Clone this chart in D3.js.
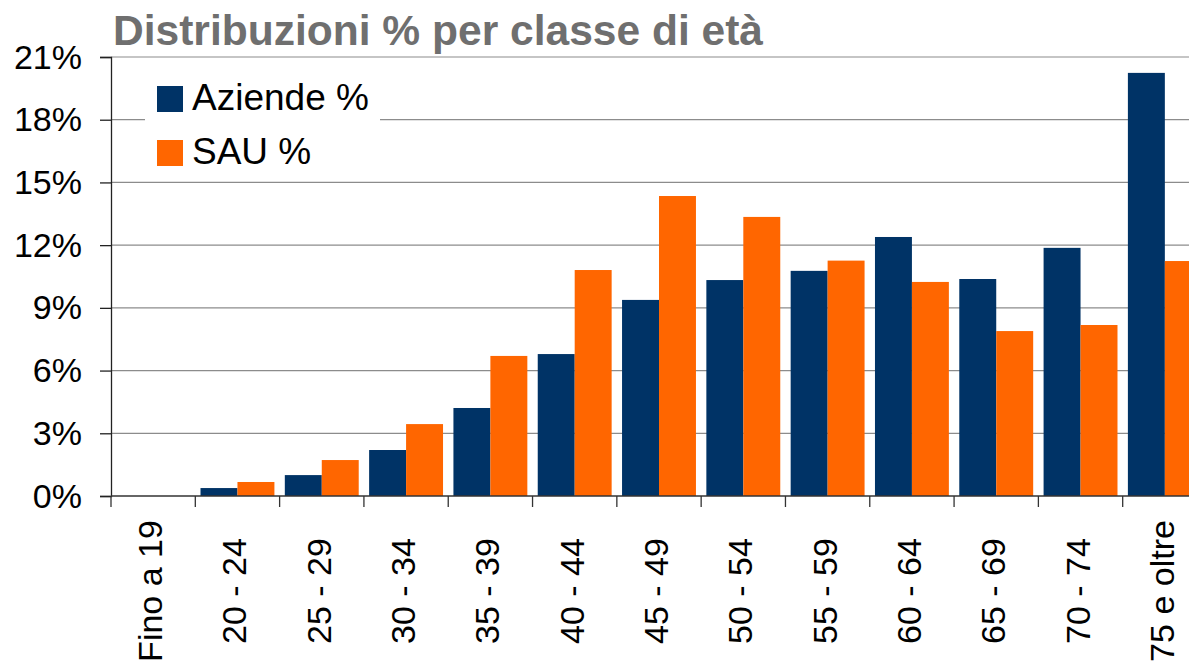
<!DOCTYPE html>
<html>
<head>
<meta charset="utf-8">
<script src="https://cdn.jsdelivr.net/npm/d3@7"></script>
<style>
  html, body { margin: 0; padding: 0; background: #fff; }
  svg { display: block; font-family: "Liberation Sans", Arial, sans-serif; }
</style>
</head>
<body>
<svg id="chart" width="1189" height="665"></svg>
<script>
// Age classes and their percentage shares
const categories = ["Fino a 19", "20 - 24", "25 - 29", "30 - 34", "35 - 39", "40 - 44",
  "45 - 49", "50 - 54", "55 - 59", "60 - 64", "65 - 69", "70 - 74", "75 e oltre"];
const aziende = [0, 0.38, 1.0, 2.2, 4.21, 6.79, 9.38, 10.33, 10.77, 12.39, 10.38, 11.87, 20.24];
const sau = [0, 0.67, 1.72, 3.44, 6.70, 10.81, 14.35, 13.35, 11.26, 10.24, 7.89, 8.18, 11.24];
const yTicks = [0, 3, 6, 9, 12, 15, 18, 21];
const seriesNames = ["Aziende %", "SAU %"];
const seriesColors = ["#003366", "#FF6600"];

const svg = d3.select("#chart");
const W = 1189;
const plotLeft = 111, plotRight = 1207, plotTop = 57, plotBottom = 496;

const x = d3.scaleBand().domain(categories).range([plotLeft, plotRight]).padding(0);
const bw = x.bandwidth();
const xs = d3.scaleBand().domain(seriesNames).range([5.2, bw - 5.2]).padding(0);
const y = d3.scaleLinear().domain([0, 21]).range([plotBottom, plotTop]);

// Title
svg.append("text")
  .attr("x", 113).attr("y", 45)
  .attr("font-size", 42.5).attr("font-weight", "bold")
  .attr("fill", "#6f6f6f")
  .attr("textLength", 650).attr("lengthAdjust", "spacingAndGlyphs")
  .text("Distribuzioni % per classe di età");

// Horizontal gridlines
svg.append("g")
  .selectAll("line")
  .data(yTicks.filter(d => d > 0))
  .join("line")
  .attr("x1", plotLeft).attr("x2", W)
  .attr("y1", d => y(d)).attr("y2", d => y(d))
  .attr("stroke", "#8c8c8c").attr("stroke-width", 1.2);

// Bars
const rows = categories.map((c, i) => ({ c, vals: [aziende[i], sau[i]] }));
const groups = svg.append("g").selectAll("g")
  .data(rows).join("g")
  .attr("transform", d => `translate(${x(d.c)},0)`);
groups.selectAll("rect")
  .data(d => d.vals.map((v, j) => ({ v, s: seriesNames[j], color: seriesColors[j] })))
  .join("rect")
  .attr("x", d => xs(d.s))
  .attr("width", xs.bandwidth())
  .attr("y", d => y(d.v))
  .attr("height", d => y(0) - y(d.v))
  .attr("fill", d => d.color);

// Y axis
const yAxis = svg.append("g")
  .attr("transform", `translate(${plotLeft},0)`)
  .call(d3.axisLeft(y).tickValues(yTicks).tickSize(11).tickPadding(18).tickFormat(d => d + "%"));
yAxis.select(".domain").attr("stroke", "#222").attr("stroke-width", 1.3);
yAxis.selectAll(".tick line").attr("stroke", "#222").attr("stroke-width", 1.3);
yAxis.selectAll(".tick text")
  .attr("font-size", 34).attr("font-family", "Liberation Sans, Arial, sans-serif")
  .attr("fill", "#000").attr("dy", 11);

// X axis baseline and category boundary ticks
svg.append("line")
  .attr("x1", plotLeft).attr("x2", W)
  .attr("y1", y(0)).attr("y2", y(0))
  .attr("stroke", "#333").attr("stroke-width", 1.4);
svg.append("g").selectAll("line")
  .data(categories)
  .join("line")
  .attr("x1", d => x(d)).attr("x2", d => x(d))
  .attr("y1", y(0)).attr("y2", y(0) + 11)
  .attr("stroke", "#333").attr("stroke-width", 1.3);

// Rotated category labels
svg.append("g").selectAll("text")
  .data(categories)
  .join("text")
  .attr("transform", d => `translate(${x(d) + bw / 2 + 9},591) rotate(-90)`)
  .attr("text-anchor", "middle")
  .attr("font-size", 34)
  .attr("fill", "#000")
  .text(d => d);

// Legend
const legend = svg.append("g");
legend.append("rect")
  .attr("x", 145).attr("y", 68).attr("width", 235).attr("height", 112)
  .attr("fill", "#fff");
seriesNames.forEach((name, i) => {
  legend.append("rect")
    .attr("x", 157).attr("y", 86 + i * 54)
    .attr("width", 26).attr("height", 26)
    .attr("fill", seriesColors[i]);
  legend.append("text")
    .attr("x", 192).attr("y", 110 + i * 54)
    .attr("font-size", 37)
    .attr("fill", "#000")
    .text(name);
});
</script>
</body>
</html>
